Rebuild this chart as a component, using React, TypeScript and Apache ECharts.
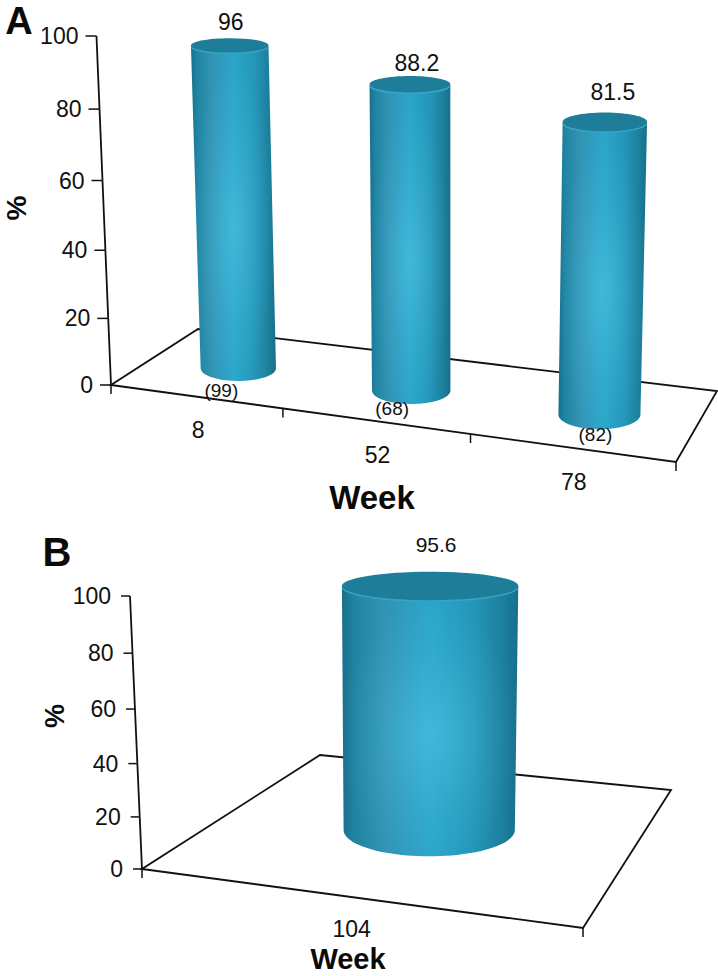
import React, { useEffect, useRef } from "react";
import * as echarts from "echarts";

const weeksA = ["8", "52", "78"];
const valuesA = [96, 88.2, 81.5];
const samplesA = ["(99)", "(68)", "(82)"];
const weeksB = ["104"];
const valuesB = [95.6];
const samplesB: string[] = [];
const yTicks = [0, 20, 40, 60, 80, 100];

const FONT = "Liberation Sans";
const INK = "#111111";

type Pt = [number, number];

function makeHomography(p0: Pt, p1: Pt, p2: Pt, p3: Pt) {
  const dx1 = p1[0] - p2[0], dx2 = p3[0] - p2[0], sx = p0[0] - p1[0] + p2[0] - p3[0];
  const dy1 = p1[1] - p2[1], dy2 = p3[1] - p2[1], sy = p0[1] - p1[1] + p2[1] - p3[1];
  const den = dx1 * dy2 - dx2 * dy1;
  const g = (sx * dy2 - dx2 * sy) / den;
  const h = (dx1 * sy - sx * dy1) / den;
  const a = p1[0] - p0[0] + g * p1[0], b = p3[0] - p0[0] + h * p3[0];
  const d = p1[1] - p0[1] + g * p1[1], e = p3[1] - p0[1] + h * p3[1];
  return (u: number, v: number): Pt => {
    const w = g * u + h * v + 1;
    return [(a * u + b * v + p0[0]) / w, (d * u + e * v + p0[1]) / w];
  };
}

const panelA = {
  gridIndex: 0,
  grid: { left: 111, top: 36, width: 565, height: 349 },
  floor: makeHomography([111, 385], [676, 462], [717, 391], [198, 329]),
  corners: [[111, 385], [676, 462], [717, 391], [198, 329]] as Pt[],
  depth: 0.46,
  shiftX: 4,
  axisH: 349,
  H0: 337, Hy: 368, Hs: 0.56,
  lean0: -15, leanX: 100, leanS: 0.0435,
  tiltA: 0.165, tiltB: 0.00046,
  tickLen: 11, labelGap: 18,
  valueFont: 23,
  valueNudge: [[1, -23], [7, -21], [8, -30]],
  sampleNudge: [[-17, 22], [-19, 18], [-4, 20]],
  weekDrop: 34, weekShift: 3,
  tickFont: 23,
};

const panelB = {
  gridIndex: 1,
  grid: { left: 142, top: 596, width: 441, height: 273 },
  floor: makeHomography([142, 869], [583, 928], [671, 790], [320, 755]),
  corners: [[142, 869], [583, 928], [671, 790], [320, 755]] as Pt[],
  depth: 0.47,
  shiftX: 5,
  axisH: 273,
  H0: 256, Hy: 830, Hs: 0.44,
  lean0: -12, leanX: 142, leanS: 0.045,
  tiltA: -0.19, tiltB: 0.0006,
  tickLen: 9, labelGap: 19,
  valueFont: 21,
  valueNudge: [[6, -41]],
  sampleNudge: [] as number[][],
  weekDrop: 32, weekShift: 1,
  tickFont: 23,
};

type Panel = typeof panelA;

const BAR_FRACTION = 0.435;
const K = 0.06;
const warp = (t: number) => t / (1 + K * (1 - t));

function rise(p: Panel, base: Pt, t: number, H: number): Pt {
  const lean = p.lean0 + p.leanS * (base[0] - p.leanX);
  const f = warp(t);
  return [base[0] + lean * f, base[1] - H * f];
}

function side() {
  return new echarts.graphic.LinearGradient(0, 0, 1, 0, [
    { offset: 0, color: "#1a6f8b" },
    { offset: 0.07, color: "#1f84a2" },
    { offset: 0.24, color: "#3393b3" },
    { offset: 0.5, color: "#2aa6ca" },
    { offset: 0.74, color: "#2597b9" },
    { offset: 0.93, color: "#1b7d99" },
    { offset: 1, color: "#176f8a" },
  ]);
}

function glow() {
  return new echarts.graphic.RadialGradient(0.5, 0.55, 0.5, [
    { offset: 0, color: "rgba(80,195,228,0.6)" },
    { offset: 0.6, color: "rgba(80,195,228,0.18)" },
    { offset: 1, color: "rgba(80,195,228,0)" },
  ]);
}

function cylinderItem(p: Panel, weeks: string[], samples: string[]) {
  return (params: any, api: any) => {
    const i = api.value(0);
    const value = api.value(1);
    const cs = params.coordSys;
    const at = api.coord([i, value]);
    const zero = api.coord([i, 0]);
    const u = (at[0] - cs.x) / cs.width;
    const t = (zero[1] - at[1]) / cs.height;
    const halfBand = (api.size([1, 0])[0] / cs.width) / 2;

    const onFloor = p.floor(u, p.depth);
    const base: Pt = [onFloor[0] + p.shiftX, onFloor[1]];
    const H = p.H0 + p.Hs * (base[1] - p.Hy);
    const top = rise(p, base, t, H);
    const l = p.floor(u - halfBand, p.depth);
    const r = p.floor(u + halfBand, p.depth);
    const ml = p.floor(0.5 - halfBand, p.depth);
    const mr = p.floor(0.5 + halfBand, p.depth);
    // foreshortening of the cylinder width is milder than that of the floor
    const rxB = (((r[0] - l[0]) + (mr[0] - ml[0])) / 4) * BAR_FRACTION;
    const rxT = rxB * 1.03;
    const ryB = rxB * (p.tiltA + p.tiltB * base[1]);
    const ryT = rxT * (p.tiltA + p.tiltB * top[1]);

    const points: number[][] = [[top[0] - rxT, top[1]]];
    const steps = 48;
    for (let s = 0; s <= steps; s++) {
      const a = Math.PI - (Math.PI * s) / steps;
      points.push([base[0] + rxB * Math.cos(a), base[1] + ryB * Math.sin(a)]);
    }
    points.push([top[0] + rxT, top[1]]);
    for (let s = 1; s < steps; s++) {
      const a = (Math.PI * s) / steps;
      points.push([top[0] + rxT * Math.cos(a), top[1] + ryT * Math.sin(a)]);
    }

    const front = p.floor(u, 0);
    const vn = p.valueNudge[i] || [0, -24];
    const sn = p.sampleNudge[i] || [0, 20];

    const text = (str: string, x: number, y: number, size: number) => ({
      type: "text",
      style: {
        text: str, x, y,
        fontFamily: FONT, fontSize: size, fill: INK,
        textAlign: "center", textVerticalAlign: "middle",
        align: "center", verticalAlign: "middle",
      },
    });

    const children: any[] = [
      { type: "polygon", shape: { points }, style: { fill: side() } },
      { type: "polygon", shape: { points }, style: { fill: glow() } },
      {
        type: "ellipse",
        shape: { cx: top[0], cy: top[1] + 1.6, rx: rxT, ry: ryT },
        style: { fill: "#37a6c6" },
      },
      {
        type: "ellipse",
        shape: { cx: top[0], cy: top[1], rx: rxT, ry: ryT },
        style: { fill: "#1e7e9a" },
      },
      text(String(value), top[0] + vn[0], top[1] + vn[1], p.valueFont),
      text(weeks[i], front[0] + p.weekShift, front[1] + p.weekDrop, p.tickFont),
    ];
    if (samples[i]) {
      children.push(text(samples[i], base[0] + sn[0], base[1] + sn[1], 19));
    }
    return { type: "group", children };
  };
}

function floorItem(p: Panel, count: number) {
  return () => {
    const lineStyle = { stroke: INK, lineWidth: 1.8, fill: "none" };
    const children: any[] = [
      { type: "polygon", shape: { points: p.corners }, style: lineStyle },
    ];
    for (let i = 0; i <= count; i++) {
      const q = p.floor(i / count, 0);
      children.push({
        type: "line",
        shape: { x1: q[0], y1: q[1], x2: q[0], y2: q[1] + 9 },
        style: { stroke: INK, lineWidth: 1.5 },
      });
    }
    return { type: "group", children };
  };
}

function axisItem(p: Panel) {
  return (params: any, api: any) => {
    const cs = params.coordSys;
    const v = api.value(1);
    const at = api.coord([0, v]);
    const t = (cs.y + cs.height - at[1]) / cs.height;
    const origin = p.floor(0, 0);
    const q = rise(p, origin, t, p.axisH);
    const next = t < 1 ? rise(p, origin, Math.min(1, t + 0.2), p.axisH) : q;
    return {
      type: "group",
      children: [
        {
          type: "line",
          shape: { x1: q[0], y1: q[1], x2: next[0], y2: next[1] },
          style: { stroke: INK, lineWidth: 1.8 },
        },
        {
          type: "line",
          shape: { x1: q[0] - p.tickLen, y1: q[1], x2: q[0], y2: q[1] },
          style: { stroke: INK, lineWidth: 1.5 },
        },
        {
          type: "text",
          style: {
            text: String(v), x: q[0] - p.labelGap, y: q[1],
            fontFamily: FONT, fontSize: p.tickFont, fill: INK,
            textAlign: "right", textVerticalAlign: "middle",
            align: "right", verticalAlign: "middle",
          },
        },
      ],
    };
  };
}

function seriesFor(p: Panel, weeks: string[], values: number[], samples: string[]) {
  const idx = { xAxisIndex: p.gridIndex, yAxisIndex: p.gridIndex };
  return [
    { type: "custom", ...idx, z: 1, silent: true, data: [[0, 0]], renderItem: floorItem(p, weeks.length) },
    { type: "custom", ...idx, z: 2, silent: true, data: yTicks.map((v) => [0, v]), renderItem: axisItem(p) },
    {
      type: "custom", ...idx, z: 3, silent: true,
      data: values.map((v, i) => [i, v]),
      renderItem: cylinderItem(p, weeks, samples),
    },
  ];
}

const titleText = (text: string, x: number, y: number, size: number, rotation = 0) => ({
  type: "text",
  x, y, rotation,
  style: {
    text, fontFamily: FONT, fontSize: size, fontWeight: "bold", fill: "#0a0a0a",
    align: "center", verticalAlign: "middle",
    textAlign: "center", textVerticalAlign: "middle",
  },
});

export default function App() {
  const ref = useRef<HTMLDivElement>(null);
  useEffect(() => {
    document.body.style.margin = "0";
    const chart = echarts.init(ref.current!, undefined, { renderer: "svg" });
    chart.setOption({
      animation: false,
      backgroundColor: "#ffffff",
      grid: [panelA.grid, panelB.grid],
      xAxis: [
        { type: "category", gridIndex: 0, data: weeksA, show: false },
        { type: "category", gridIndex: 1, data: weeksB, show: false },
      ],
      yAxis: [
        { type: "value", gridIndex: 0, min: 0, max: 100, interval: 20, show: false },
        { type: "value", gridIndex: 1, min: 0, max: 100, interval: 20, show: false },
      ],
      graphic: [
        titleText("A", 19, 21, 38),
        titleText("B", 57, 552, 40),
        titleText("%", 16, 208, 28, Math.PI / 2),
        titleText("%", 55, 716, 27, Math.PI / 2),
        titleText("Week", 372, 497, 33),
        titleText("Week", 348, 959, 29),
      ],
      series: [
        ...seriesFor(panelA, weeksA, valuesA, samplesA),
        ...seriesFor(panelB, weeksB, valuesB, samplesB),
      ],
    });
    return () => chart.dispose();
  }, []);
  return <div ref={ref} style={{ position: "absolute", left: 0, top: 0, width: 718, height: 976 }} />;
}
